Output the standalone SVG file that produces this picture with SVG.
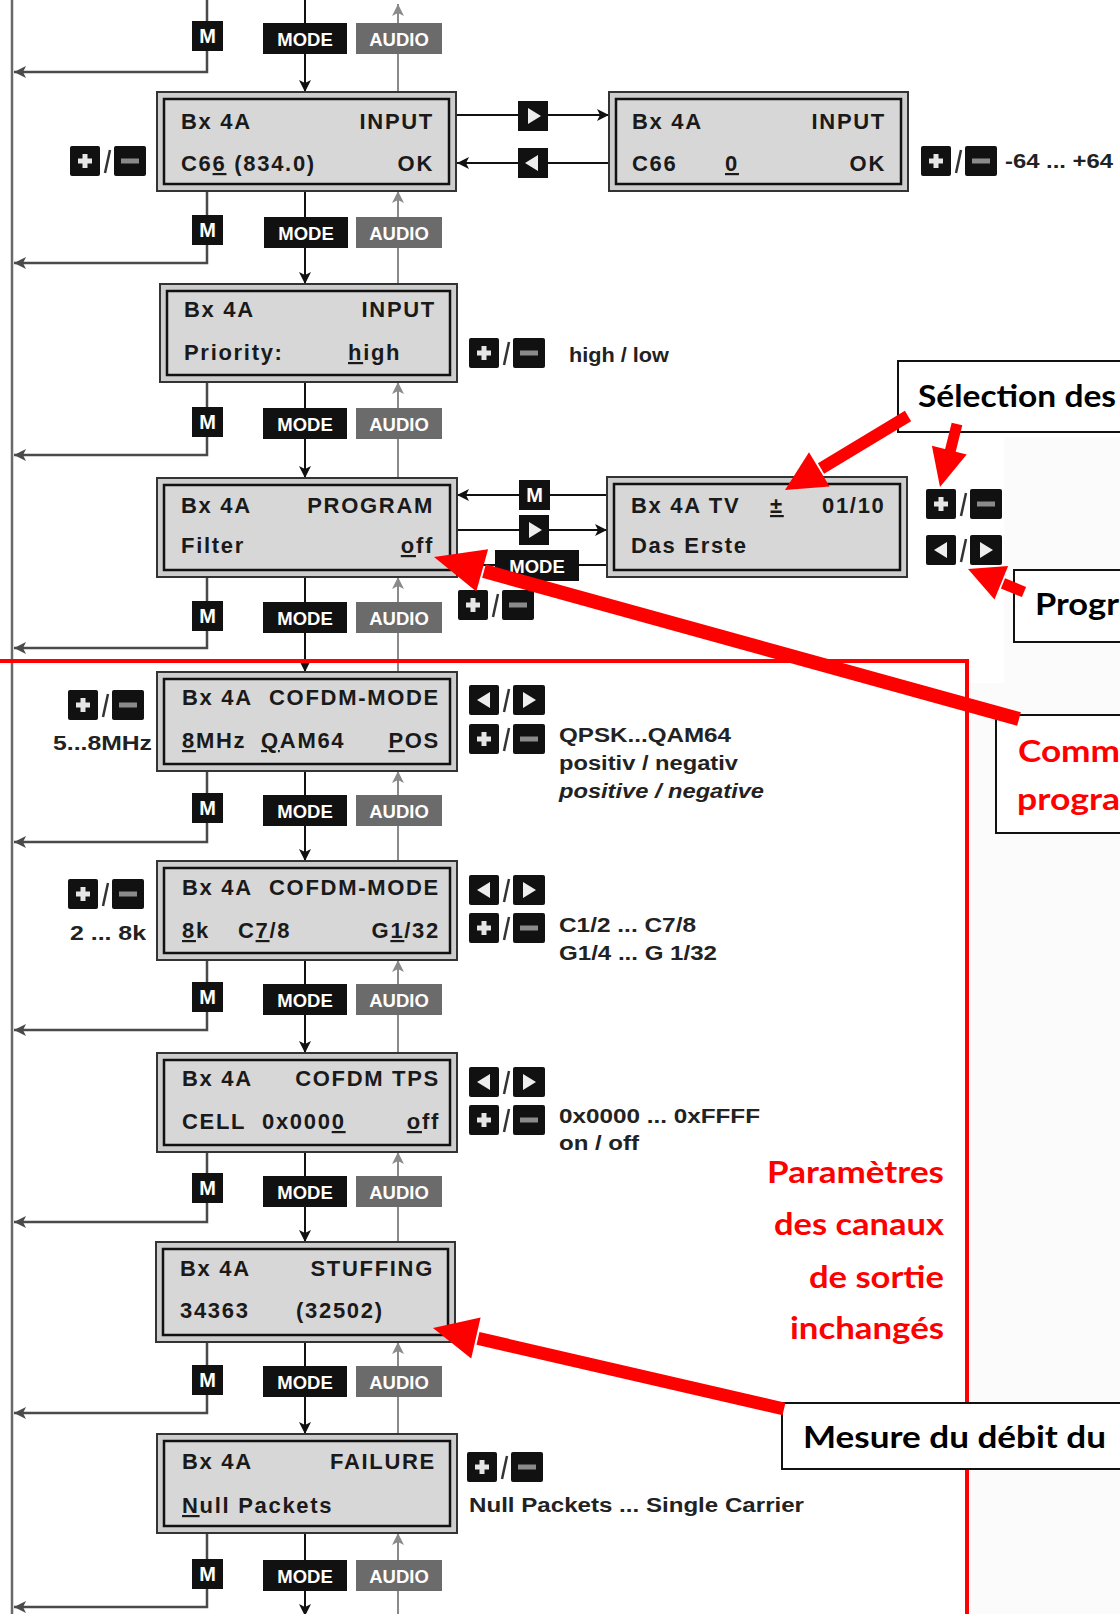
<svg xmlns="http://www.w3.org/2000/svg" width="1120" height="1614" viewBox="0 0 1120 1614">
<style>
.lo{fill:#cdcdcd;stroke:#333;stroke-width:2}
.li{fill:#d7d7d7;stroke:#111;stroke-width:2.5}
.lt{font-family:"Liberation Sans",Arial,sans-serif;font-weight:bold;font-size:22px;letter-spacing:1.7px;fill:#1a1a1a}
.e{text-anchor:end}
.bt{font-family:"Liberation Sans",Arial,sans-serif;font-weight:bold;fill:#fff;text-anchor:middle}
.st{font-family:"Liberation Sans",Arial,sans-serif;font-weight:bold;font-size:20px;fill:#222}
.cb{fill:#fff;stroke:#111;stroke-width:2}
.ct{font-family:Lato,"Open Sans",sans-serif;font-weight:bold;font-size:31px;fill:#000}
.red{fill:#ff0000}
.mline{fill:none;stroke:#4a4a4a;stroke-width:2.5}
.dline{fill:none;stroke:#111;stroke-width:2}
.aline{fill:none;stroke:#8a8a8a;stroke-width:2}
.rs{stroke:#ff0000;fill:none}
</style>
<defs>
<marker id="ak" markerUnits="userSpaceOnUse" viewBox="0 0 12 12" markerWidth="12" markerHeight="12" refX="12" refY="6" orient="auto"><path d="M0,0 L12,6 L0,12 L3,6 Z" fill="#111"/></marker>
<marker id="ad" markerUnits="userSpaceOnUse" viewBox="0 0 12 12" markerWidth="12" markerHeight="12" refX="12" refY="6" orient="auto"><path d="M0,0 L12,6 L0,12 L3,6 Z" fill="#4a4a4a"/></marker>
<marker id="ag" markerUnits="userSpaceOnUse" viewBox="0 0 12 12" markerWidth="12" markerHeight="12" refX="12" refY="6" orient="auto"><path d="M0,0 L12,6 L0,12 L3,6 Z" fill="#8a8a8a"/></marker>
<g id="pm"><rect width="30" height="30" rx="2" fill="#111"/><rect x="12.5" y="8" width="5" height="14" fill="#e6e6e6"/><rect x="8" y="12.5" width="14" height="5" fill="#e6e6e6"/><line x1="40" y1="4" x2="35" y2="27" stroke="#333" stroke-width="2.5"/><rect x="44" width="32" height="30" rx="2" fill="#111"/><rect x="51" y="12.5" width="18" height="5" fill="#8a8a8a"/></g>
<g id="lr"><rect width="30" height="30" rx="2" fill="#111"/><polygon points="8,15 21,7 21,23" fill="#eee"/><line x1="40" y1="4" x2="35" y2="27" stroke="#333" stroke-width="2.5"/><rect x="44" width="32" height="30" rx="2" fill="#111"/><polygon points="54,7 54,23 67,15" fill="#eee"/></g>
<g id="bM"><rect width="31" height="30" fill="#111"/><text class="bt" x="15.5" y="22" font-size="20">M</text></g>
<g id="bMODE"><rect width="84" height="31" fill="#111"/><text class="bt" x="42" y="22.5" font-size="18.5">MODE</text></g>
<g id="bAUDIO"><rect width="86" height="31" fill="#6b6b6b"/><text class="bt" x="43" y="22.5" font-size="18.5">AUDIO</text></g>
<g id="bR"><rect width="30" height="30" fill="#111"/><polygon points="10,7 10,23 23,15" fill="#eee"/></g>
<g id="bL"><rect width="30" height="30" fill="#111"/><polygon points="20,7 20,23 7,15" fill="#eee"/></g>
</defs>
<rect width="1120" height="1614" fill="#fff"/>
<rect x="1004" y="437" width="116" height="246" fill="#fbfbfb"/>
<rect x="970" y="683" width="150" height="931" fill="#fbfbfb"/>

<g id="connectors">
<line x1="12" y1="0" x2="12" y2="1614" stroke="#6a6a6a" stroke-width="2.5"/>
<path class="mline" d="M207,0 V72 H14" marker-end="url(#ad)"/>
<path class="mline" d="M207,191 V263 H14" marker-end="url(#ad)"/>
<path class="mline" d="M207,382 V455 H14" marker-end="url(#ad)"/>
<path class="mline" d="M207,577 V648 H14" marker-end="url(#ad)"/>
<path class="mline" d="M207,771 V842 H14" marker-end="url(#ad)"/>
<path class="mline" d="M207,960 V1030 H14" marker-end="url(#ad)"/>
<path class="mline" d="M207,1152 V1222 H14" marker-end="url(#ad)"/>
<path class="mline" d="M207,1342 V1413 H14" marker-end="url(#ad)"/>
<path class="mline" d="M207,1533 V1607 H14" marker-end="url(#ad)"/>
<path class="dline" d="M305,0 V92" marker-end="url(#ak)"/>
<path class="dline" d="M305,191 V284" marker-end="url(#ak)"/>
<path class="dline" d="M305,382 V478" marker-end="url(#ak)"/>
<path class="dline" d="M305,577 V672" marker-end="url(#ak)"/>
<path class="dline" d="M305,771 V861" marker-end="url(#ak)"/>
<path class="dline" d="M305,960 V1053" marker-end="url(#ak)"/>
<path class="dline" d="M305,1152 V1242" marker-end="url(#ak)"/>
<path class="dline" d="M305,1342 V1434" marker-end="url(#ak)"/>
<path class="dline" d="M305,1533 V1616" marker-end="url(#ak)"/>
<path class="aline" d="M398,92 V4" marker-end="url(#ag)"/>
<path class="aline" d="M398,284 V191" marker-end="url(#ag)"/>
<path class="aline" d="M398,478 V382" marker-end="url(#ag)"/>
<path class="aline" d="M398,672 V577" marker-end="url(#ag)"/>
<path class="aline" d="M398,861 V771" marker-end="url(#ag)"/>
<path class="aline" d="M398,1053 V960" marker-end="url(#ag)"/>
<path class="aline" d="M398,1242 V1152" marker-end="url(#ag)"/>
<path class="aline" d="M398,1434 V1342" marker-end="url(#ag)"/>
<path class="aline" d="M398,1614 V1533" marker-end="url(#ag)"/>
<path class="dline" d="M457,115 H609" marker-end="url(#ak)"/>
<path class="dline" d="M609,163 H457" marker-end="url(#ak)"/>
<path class="dline" d="M607,495 H457" marker-end="url(#ak)"/>
<path class="dline" d="M457,530 H607" marker-end="url(#ak)"/>
<path class="dline" d="M457,565 H607"/>
</g>

<g id="buttons">
<use href="#bM" x="192" y="21"/><use href="#bMODE" x="263" y="23"/><use href="#bAUDIO" x="356" y="23"/>
<use href="#bM" x="192" y="215"/><use href="#bMODE" x="264" y="217"/><use href="#bAUDIO" x="356" y="217"/>
<use href="#bM" x="192" y="407"/><use href="#bMODE" x="263" y="408"/><use href="#bAUDIO" x="356" y="408"/>
<use href="#bM" x="192" y="601"/><use href="#bMODE" x="263" y="602"/><use href="#bAUDIO" x="356" y="602"/>
<use href="#bM" x="192" y="793"/><use href="#bMODE" x="263" y="795"/><use href="#bAUDIO" x="356" y="795"/>
<use href="#bM" x="192" y="982"/><use href="#bMODE" x="263" y="984"/><use href="#bAUDIO" x="356" y="984"/>
<use href="#bM" x="192" y="1173"/><use href="#bMODE" x="263" y="1176"/><use href="#bAUDIO" x="356" y="1176"/>
<use href="#bM" x="192" y="1365"/><use href="#bMODE" x="263" y="1366"/><use href="#bAUDIO" x="356" y="1366"/>
<use href="#bM" x="192" y="1559"/><use href="#bMODE" x="263" y="1560"/><use href="#bAUDIO" x="356" y="1560"/>
<use href="#bR" x="518" y="101"/><use href="#bL" x="518" y="148"/>
<use href="#bM" x="519" y="480"/><use href="#bR" x="519" y="515"/><use href="#bMODE" x="495" y="550"/>
</g>

<g id="box-input1">
<rect class="lo" x="157" y="92" width="299" height="99"/><rect class="li" x="164" y="99" width="285" height="85"/>
<text class="lt" x="181" y="129">Bx 4A</text><text class="lt e" x="434" y="129">INPUT</text>
<text class="lt" x="181" y="171">C6<tspan text-decoration="underline">6</tspan> (834.0)</text><text class="lt e" x="434" y="171">OK</text>
<use href="#pm" x="70" y="146"/>
</g>
<g id="box-input2">
<rect class="lo" x="609" y="92" width="299" height="99"/><rect class="li" x="616" y="99" width="285" height="85"/>
<text class="lt" x="632" y="129">Bx 4A</text><text class="lt e" x="886" y="129">INPUT</text>
<text class="lt" x="632" y="171">C66</text><text class="lt" x="725" y="171" text-decoration="underline">0</text><text class="lt e" x="886" y="171">OK</text>
<use href="#pm" x="921" y="146"/>
<text class="st" x="1005" y="168" textLength="108" lengthAdjust="spacingAndGlyphs">-64 ... +64</text>
</g>
<g id="box-priority">
<rect class="lo" x="160" y="284" width="297" height="98"/><rect class="li" x="167" y="291" width="283" height="84"/>
<text class="lt" x="184" y="317">Bx 4A</text><text class="lt e" x="436" y="317">INPUT</text>
<text class="lt" x="184" y="360">Priority:</text><text class="lt" x="348" y="360"><tspan text-decoration="underline">h</tspan>igh</text>
<use href="#pm" x="469" y="338"/>
<text class="st" x="569" y="362" textLength="100" lengthAdjust="spacingAndGlyphs">high / low</text>
</g>
<g id="box-program">
<rect class="lo" x="157" y="478" width="300" height="99"/><rect class="li" x="164" y="485" width="286" height="85"/>
<text class="lt" x="181" y="513">Bx 4A</text><text class="lt e" x="434" y="513">PROGRAM</text>
<text class="lt" x="181" y="553">Filter</text><text class="lt e" x="434" y="553"><tspan text-decoration="underline">o</tspan>ff</text>
<use href="#pm" x="458" y="590"/>
</g>
<g id="box-tv">
<rect class="lo" x="607" y="477" width="300" height="100"/><rect class="li" x="614" y="484" width="286" height="86"/>
<text class="lt" x="631" y="513">Bx 4A TV</text><text class="lt" x="770" y="513" text-decoration="underline">±</text><text class="lt" x="822" y="513">01/10</text>
<text class="lt" x="631" y="553">Das Erste</text>
<use href="#pm" x="926" y="489"/>
<use href="#lr" x="926" y="535"/>
</g>
<g id="box-cofdm1">
<rect class="lo" x="157" y="672" width="300" height="99"/><rect class="li" x="164" y="679" width="286" height="85"/>
<text class="lt" x="182" y="705">Bx 4A</text><text class="lt e" x="440" y="705">COFDM-MODE</text>
<text class="lt" x="182" y="748"><tspan text-decoration="underline">8</tspan>MHz</text><text class="lt" x="261" y="748"><tspan text-decoration="underline">Q</tspan>AM64</text><text class="lt e" x="440" y="748"><tspan text-decoration="underline">P</tspan>OS</text>
<use href="#pm" x="68" y="690"/>
<text class="st" x="53" y="750" textLength="99" lengthAdjust="spacingAndGlyphs">5...8MHz</text>
<use href="#lr" x="469" y="685"/><use href="#pm" x="469" y="724"/>
<text class="st" x="559" y="742" textLength="172" lengthAdjust="spacingAndGlyphs">QPSK...QAM64</text>
<text class="st" x="559" y="770" textLength="179" lengthAdjust="spacingAndGlyphs">positiv / negativ</text>
<text class="st" x="559" y="798" font-style="italic" textLength="205" lengthAdjust="spacingAndGlyphs">positive / negative</text>
</g>
<g id="box-cofdm2">
<rect class="lo" x="157" y="861" width="300" height="99"/><rect class="li" x="164" y="868" width="286" height="85"/>
<text class="lt" x="182" y="895">Bx 4A</text><text class="lt e" x="440" y="895">COFDM-MODE</text>
<text class="lt" x="182" y="938"><tspan text-decoration="underline">8</tspan>k</text><text class="lt" x="238" y="938">C<tspan text-decoration="underline">7</tspan>/8</text><text class="lt e" x="440" y="938">G<tspan text-decoration="underline">1</tspan>/32</text>
<use href="#pm" x="68" y="879"/>
<text class="st" x="70" y="940" textLength="76" lengthAdjust="spacingAndGlyphs">2 ... 8k</text>
<use href="#lr" x="469" y="875"/><use href="#pm" x="469" y="913"/>
<text class="st" x="559" y="932" textLength="137" lengthAdjust="spacingAndGlyphs">C1/2 ... C7/8</text>
<text class="st" x="559" y="960" textLength="158" lengthAdjust="spacingAndGlyphs">G1/4 ... G 1/32</text>
</g>
<g id="box-tps">
<rect class="lo" x="157" y="1053" width="300" height="99"/><rect class="li" x="164" y="1060" width="286" height="85"/>
<text class="lt" x="182" y="1086">Bx 4A</text><text class="lt e" x="440" y="1086">COFDM TPS</text>
<text class="lt" x="182" y="1129">CELL</text><text class="lt" x="262" y="1129">0x000<tspan text-decoration="underline">0</tspan></text><text class="lt e" x="440" y="1129"><tspan text-decoration="underline">o</tspan>ff</text>
<use href="#lr" x="469" y="1067"/><use href="#pm" x="469" y="1105"/>
<text class="st" x="559" y="1123" textLength="201" lengthAdjust="spacingAndGlyphs">0x0000 ... 0xFFFF</text>
<text class="st" x="559" y="1150" textLength="80" lengthAdjust="spacingAndGlyphs">on / off</text>
</g>
<g id="box-stuffing">
<rect class="lo" x="156" y="1242" width="299" height="100"/><rect class="li" x="163" y="1249" width="285" height="86"/>
<text class="lt" x="180" y="1276">Bx 4A</text><text class="lt e" x="434" y="1276">STUFFING</text>
<text class="lt" x="180" y="1318">34363</text><text class="lt" x="296" y="1318">(32502)</text>
</g>
<g id="box-failure">
<rect class="lo" x="157" y="1434" width="300" height="99"/><rect class="li" x="164" y="1441" width="286" height="85"/>
<text class="lt" x="182" y="1469">Bx 4A</text><text class="lt e" x="436" y="1469">FAILURE</text>
<text class="lt" x="182" y="1513"><tspan text-decoration="underline">N</tspan>ull Packets</text>
<use href="#pm" x="467" y="1452"/>
<text class="st" x="469" y="1512" textLength="335" lengthAdjust="spacingAndGlyphs">Null Packets ... Single Carrier</text>
</g>

<g id="red-frame">
<path class="rs" stroke-width="4" d="M0,661 H967 V1614"/>
<text class="ct red" x="944" y="1183" text-anchor="end" font-size="30" textLength="177" lengthAdjust="spacingAndGlyphs">Paramètres</text>
<text class="ct red" x="944" y="1235" text-anchor="end" font-size="30" textLength="170" lengthAdjust="spacingAndGlyphs">des canaux</text>
<text class="ct red" x="944" y="1288" text-anchor="end" font-size="30" textLength="135" lengthAdjust="spacingAndGlyphs">de sortie</text>
<text class="ct red" x="944" y="1339" text-anchor="end" font-size="30" textLength="154" lengthAdjust="spacingAndGlyphs">inchangés</text>
</g>

<g id="callout-selection">
<rect class="cb" x="898" y="361" width="240" height="71"/>
<text class="ct" x="918" y="407" textLength="198" lengthAdjust="spacingAndGlyphs">Sélection des</text>
</g>
<g id="callout-progr">
<rect class="cb" x="1014" y="570" width="120" height="72"/>
<text class="ct" x="1035" y="615" textLength="84" lengthAdjust="spacingAndGlyphs">Progr</text>
</g>
<g id="callout-comm">
<rect class="cb" x="996" y="715" width="140" height="118"/>
<text class="ct red" x="1018" y="762" textLength="102" lengthAdjust="spacingAndGlyphs">Comm</text>
<text class="ct red" x="1017" y="810" textLength="103" lengthAdjust="spacingAndGlyphs">progra</text>
</g>
<g id="callout-mesure">
<rect class="cb" x="782" y="1403" width="360" height="66"/>
<text class="ct" x="803" y="1448" textLength="303" lengthAdjust="spacingAndGlyphs">Mesure du débit du</text>
</g>

<g id="red-arrows">
<line class="rs" x1="908" y1="416" x2="821" y2="468.5" stroke-width="12"/>
<polygon class="red" points="785,490 829.6,486.5 809,452.3"/>
<line class="rs" x1="957" y1="424" x2="950" y2="452" stroke-width="11"/>
<polygon class="red" points="940,487 966.7,454.6 931.9,445.8"/>
<line class="rs" x1="1024" y1="592" x2="1003" y2="583.4" stroke-width="11"/>
<polygon class="red" points="968,569 1008.1,566 994.5,599.4"/>
<line class="rs" x1="1019" y1="719" x2="484" y2="571" stroke-width="14"/>
<polygon class="red" points="434,557 488.1,549.2 476.3,591.6"/>
<line class="rs" x1="784" y1="1409" x2="478" y2="1338.4" stroke-width="13"/>
<polygon class="red" points="433,1328 480.6,1317.4 471.2,1358.4"/>
</g>
</svg>
